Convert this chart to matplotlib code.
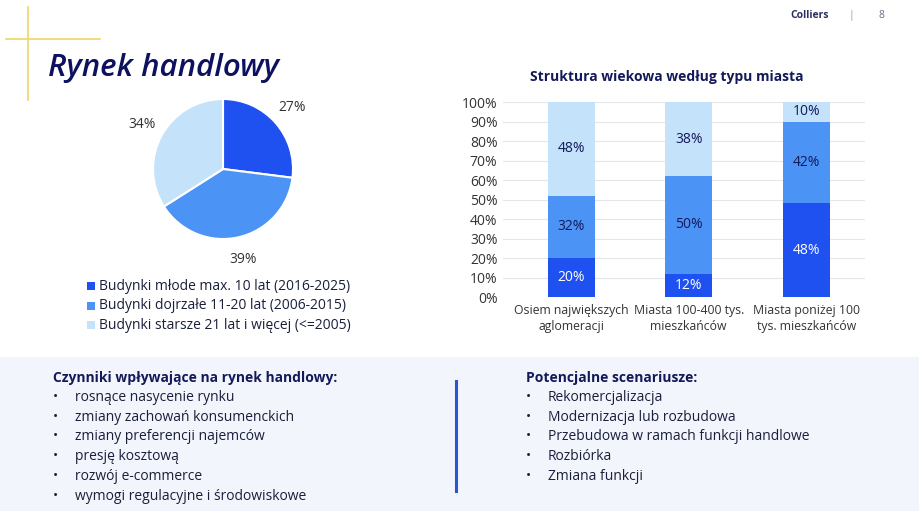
import matplotlib
matplotlib.use("Agg")
import matplotlib.pyplot as plt
from matplotlib.patches import Rectangle
from matplotlib.lines import Line2D

plt.rcParams['font.family'] = ['Open Sans', 'DejaVu Sans']

W, H = 920, 511
NAVY = '#14195a'
DARK = '#1f50f0'
MED = '#4c93f6'
LIGHT = '#c4e3fb'

# ---- data ----
pie_labels = ['Budynki młode max. 10 lat (2016-2025)',
              'Budynki dojrzałe 11-20 lat (2006-2015)',
              'Budynki starsze 21 lat i więcej (<=2005)']
pie_values = [27, 39, 34]

bar_categories = ['Osiem największych\naglomeracji',
                  'Miasta 100-400 tys.\nmieszkańców',
                  'Miasta poniżej 100\ntys. mieszkańców']
young = [20, 12, 48]
mature = [32, 50, 42]
old = [48, 38, 10]
y_ticks = list(range(0, 101, 10))

factors_title = 'Czynniki wpływające na rynek handlowy:'
factors = ['rosnące nasycenie rynku', 'zmiany zachowań konsumenckich',
           'zmiany preferencji najemców', 'presję kosztową',
           'rozwój e-commerce', 'wymogi regulacyjne i środowiskowe']
scen_title = 'Potencjalne scenariusze:'
scenarios = ['Rekomercjalizacja', 'Modernizacja lub rozbudowa',
             'Przebudowa w ramach funkcji handlowe', 'Rozbiórka', 'Zmiana funkcji']


def fx(x):
    return x / W


def fy(y):
    return 1 - y / H


fig = plt.figure(figsize=(W / 100, H / 100), dpi=100)
fig.patch.set_facecolor('white')

# bottom panel background
fig.add_artist(Rectangle((0, 0), 1, fy(357), transform=fig.transFigure,
                         facecolor='#f2f5fc', edgecolor='none', zorder=0))

# yellow crosshair
fig.add_artist(Line2D([fx(28), fx(28)], [fy(7), fy(100)], transform=fig.transFigure,
                      color='#f0d66a', lw=1.2))
fig.add_artist(Line2D([fx(6), fx(100)], [fy(39), fy(39)], transform=fig.transFigure,
                      color='#f0d66a', lw=1.2))

# header
fig.text(fx(48), fy(68), 'Rynek handlowy', fontsize=22.5, style='italic',
         fontweight='semibold', color='#0d1160', va='center', ha='left')
fig.text(fx(810), fy(15), 'Colliers', fontsize=7.5, fontweight='bold',
         color='#2a3060', ha='center', va='center')
fig.text(fx(851), fy(15), '|', fontsize=7.5, color='#9aa0b0', ha='center', va='center')
fig.text(fx(881), fy(15), '8', fontsize=7.5, color='#6a7080', ha='center', va='center')

# ---- pie ----
cx, cy, r = 223, 169, 70
pax = fig.add_axes([fx(cx - r), fy(cy + r), 2 * r / W, 2 * r / H])
pax.pie(pie_values, colors=[DARK, MED, LIGHT], startangle=90, counterclock=False,
        radius=1, labels=[f'{v}%' for v in pie_values], labeldistance=1.32,
        wedgeprops=dict(edgecolor='white', linewidth=1.5),
        textprops=dict(fontsize=10, color='#333333', ha='center', va='center'))
pax.set_xlim(-1, 1)
pax.set_ylim(-1, 1)
pax.set_aspect('auto')

# pie legend
for i, (lab, col) in enumerate(zip(pie_labels, [DARK, MED, LIGHT])):
    yy = 286 + i * 19.7
    fig.add_artist(Rectangle((fx(87), fy(yy + 4)), 8 / W, 8 / H, transform=fig.transFigure,
                             facecolor=col, edgecolor='none'))
    fig.text(fx(99), fy(yy), lab, fontsize=10, color='#1a1f3a', va='center', ha='left')

# ---- stacked bar ----
bax = fig.add_axes([fx(503), fy(297), (865 - 503) / W, (297 - 102) / H])
xs = list(range(len(bar_categories)))
bw = 0.4
bax.bar(xs, young, width=bw, color=DARK, zorder=3)
bax.bar(xs, mature, width=bw, bottom=young, color=MED, zorder=3)
bot2 = [a + b for a, b in zip(young, mature)]
bax.bar(xs, old, width=bw, bottom=bot2, color=LIGHT, zorder=3)
for i in xs:
    bax.text(i, young[i] / 2, f'{young[i]}%', ha='center', va='center',
             color='white', fontsize=10, zorder=4)
    bax.text(i, young[i] + mature[i] / 2, f'{mature[i]}%', ha='center', va='center',
             color=NAVY, fontsize=10, zorder=4)
    bax.text(i, bot2[i] + old[i] / 2, f'{old[i]}%', ha='center', va='center',
             color=NAVY, fontsize=10, zorder=4)
bax.set_xlim(-0.58, 2.5)
bax.set_ylim(0, 100)
bax.set_yticks(y_ticks)
bax.set_yticklabels([f'{t}%' for t in y_ticks], fontsize=10, color='#333333')
bax.set_xticks(xs)
bax.set_xticklabels(bar_categories, fontsize=8.8, color='#333333', linespacing=1.35)
bax.tick_params(length=0, pad=4)
bax.tick_params(axis='x', pad=5)
bax.grid(axis='y', color='#e6e6e6', lw=0.8, zorder=0)
for s in bax.spines.values():
    s.set_visible(False)
bax.set_facecolor('none')
fig.text(fx(667), fy(77), 'Struktura wiekowa według typu miasta', fontsize=10,
         fontweight='bold', color=NAVY, ha='center', va='center')

# ---- bottom text ----
fig.text(fx(53), fy(378), factors_title, fontsize=10, fontweight='bold',
         color=NAVY, ha='left', va='center')
for i, t in enumerate(factors):
    yy = 397.5 + i * 19.7
    fig.text(fx(53), fy(yy), '•', fontsize=10, color='#1a1f3a', ha='left', va='center')
    fig.text(fx(75), fy(yy), t, fontsize=10, color='#1a1f3a', ha='left', va='center')

fig.add_artist(Line2D([fx(456), fx(456)], [fy(381), fy(491)], transform=fig.transFigure,
                      color='#2a55d0', lw=2.2))

fig.text(fx(526), fy(378), scen_title, fontsize=10, fontweight='bold',
         color=NAVY, ha='left', va='center')
for i, t in enumerate(scenarios):
    yy = 397.5 + i * 19.7
    fig.text(fx(526), fy(yy), '•', fontsize=10, color='#1a1f3a', ha='left', va='center')
    fig.text(fx(548), fy(yy), t, fontsize=10, color='#1a1f3a', ha='left', va='center')

fig.savefig('out.png', dpi=100)
